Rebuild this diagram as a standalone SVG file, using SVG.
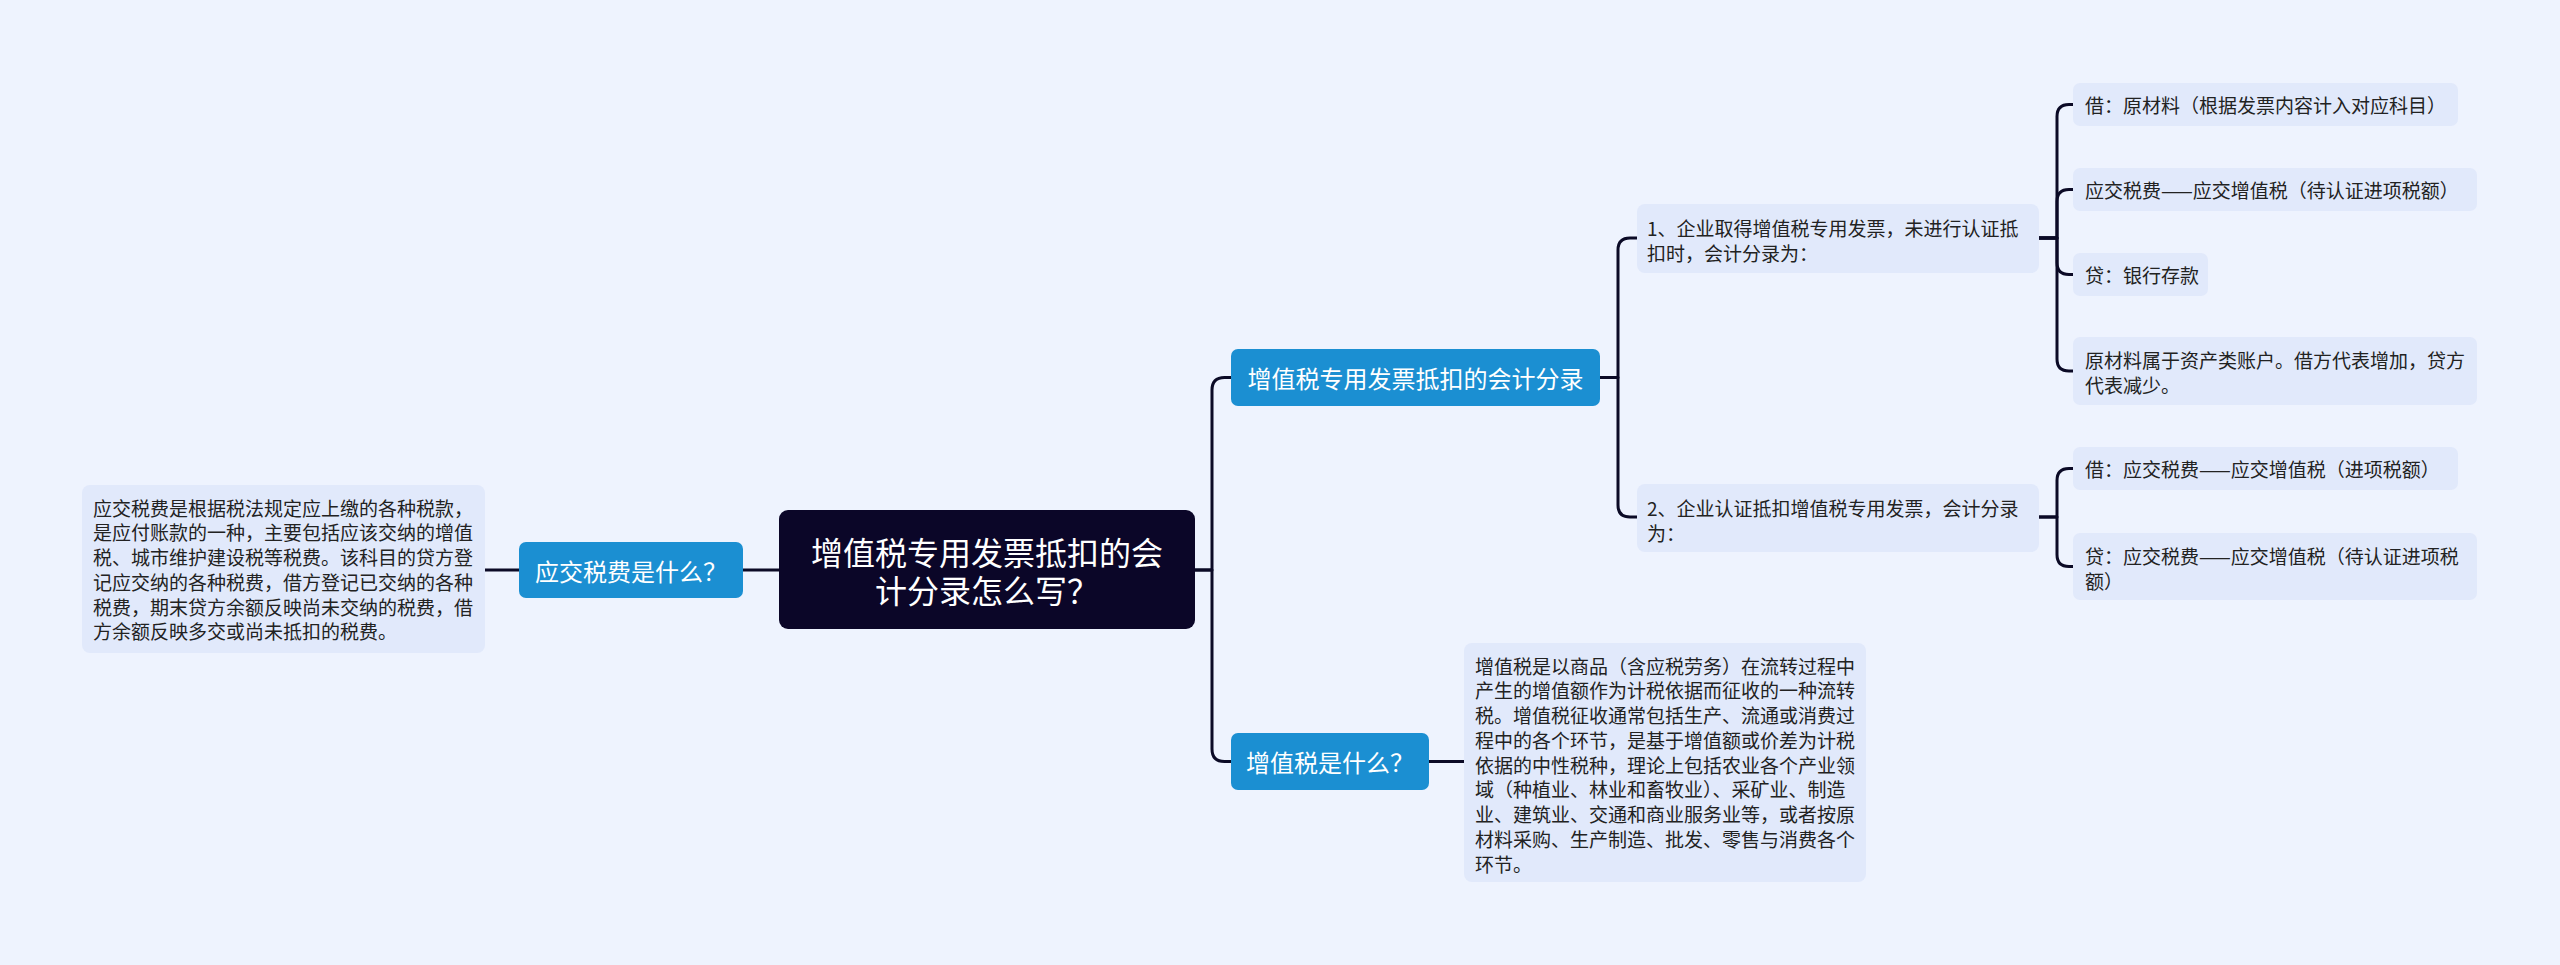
<svg xmlns="http://www.w3.org/2000/svg" width="2560" height="965" viewBox="0 0 2560 965">
<style>
text{font-family:"Noto Sans CJK SC","Noto Sans",sans-serif;dominant-baseline:central}
.root{fill:#0b0628}
.blue{fill:#1b8fd2}
.box{fill:#e1e9fb}
.tw{fill:#ffffff}
.tc{fill:#222222;font-size:19px}
.t24{font-size:24px;text-anchor:middle}
.t32{font-size:32px;text-anchor:middle}
.ln{fill:none;stroke:#0b0a26;stroke-width:3;stroke-linecap:round;stroke-linejoin:round}
</style>
<rect x="0" y="0" width="2560" height="965" fill="#eef3fe"/>
<g id="connectors" class="ln">
<path d="M779 570 H743"/>
<path d="M519 570 H485"/>
<path d="M1195 570 H1212 V390 Q1212 377.5 1224.5 377.5 H1231"/>
<path d="M1195 570 H1212 V749 Q1212 761.5 1224.5 761.5 H1231"/>
<path d="M1429 761.5 H1464"/>
<path d="M1600 377.5 H1618 V250 Q1618 238 1630 238 H1637"/>
<path d="M1600 377.5 H1618 V505 Q1618 517 1630 517 H1637"/>
<path d="M2039 238 H2057 V116.5 Q2057 104.5 2069 104.5 H2073"/>
<path d="M2039 238 H2057 V201.5 Q2057 189.5 2069 189.5 H2073"/>
<path d="M2039 238 H2057 V262.5 Q2057 274.5 2069 274.5 H2073"/>
<path d="M2039 238 H2057 V359 Q2057 371 2069 371 H2073"/>
<path d="M2039 517 H2057 V480.5 Q2057 468.5 2069 468.5 H2073"/>
<path d="M2039 517 H2057 V554.5 Q2057 566.5 2069 566.5 H2073"/>
</g>
<g id="root">
<rect class="root" x="779" y="510" width="416" height="119" rx="9"/>
<text class="tw t32" x="987" y="550.5"><tspan x="987" y="550.5">增值税专用发票抵扣的会</tspan><tspan x="987" y="588.5">计分录怎么写？</tspan></text>
</g>
<g id="node-yjsf">
<rect class="blue" x="519" y="542" width="224" height="56" rx="7"/>
<text class="tw t24" x="631" y="570">应交税费是什么？</text>
</g>
<g id="node-yjsf-desc">
<rect class="box" x="82" y="485" width="403" height="168" rx="8"/>
<text class="tc" x="93" y="507">应交税费是根据税法规定应上缴的各种税款，</text>
<text class="tc" x="93" y="531.75">是应付账款的一种，主要包括应该交纳的增值</text>
<text class="tc" x="93" y="556.5">税、城市维护建设税等税费。该科目的贷方登</text>
<text class="tc" x="93" y="581.25">记应交纳的各种税费，借方登记已交纳的各种</text>
<text class="tc" x="93" y="606">税费，期末贷方余额反映尚未交纳的税费，借</text>
<text class="tc" x="93" y="630.75">方余额反映多交或尚未抵扣的税费。</text>
</g>
<g id="node-branch1">
<rect class="blue" x="1231" y="349" width="369" height="57" rx="7"/>
<text class="tw t24" x="1415.5" y="377.5">增值税专用发票抵扣的会计分录</text>
</g>
<g id="node-branch2">
<rect class="blue" x="1231" y="733" width="198" height="57" rx="7"/>
<text class="tw t24" x="1330" y="761.5">增值税是什么？</text>
</g>
<g id="node-vat-desc">
<rect class="box" x="1464" y="643" width="402" height="239" rx="8"/>
<text class="tc" x="1475" y="665">增值税是以商品（含应税劳务）在流转过程中</text>
<text class="tc" x="1475" y="689.75">产生的增值额作为计税依据而征收的一种流转</text>
<text class="tc" x="1475" y="714.5">税。增值税征收通常包括生产、流通或消费过</text>
<text class="tc" x="1475" y="739.25">程中的各个环节，是基于增值额或价差为计税</text>
<text class="tc" x="1475" y="764">依据的中性税种，理论上包括农业各个产业领</text>
<text class="tc" x="1475" y="788.75">域（种植业、林业和畜牧业）、采矿业、制造</text>
<text class="tc" x="1475" y="813.5">业、建筑业、交通和商业服务业等，或者按原</text>
<text class="tc" x="1475" y="838.25">材料采购、生产制造、批发、零售与消费各个</text>
<text class="tc" x="1475" y="863">环节。</text>
</g>
<g id="node-sub1">
<rect class="box" x="1637" y="204" width="402" height="69" rx="8"/>
<text class="tc" x="1647" y="227">1、企业取得增值税专用发票，未进行认证抵</text>
<text class="tc" x="1647" y="252">扣时，会计分录为：</text>
</g>
<g id="node-sub2">
<rect class="box" x="1637" y="484" width="402" height="68" rx="8"/>
<text class="tc" x="1647" y="507.5">2、企业认证抵扣增值税专用发票，会计分录</text>
<text class="tc" x="1647" y="532">为：</text>
</g>
<g id="node-leaf1">
<rect class="box" x="2073" y="83" width="385" height="43" rx="7"/>
<text class="tc" x="2085" y="104.5">借：原材料（根据发票内容计入对应科目）</text>
</g>
<g id="node-leaf2">
<rect class="box" x="2073" y="168" width="404" height="43" rx="7"/>
<text class="tc" x="2085" y="189.5">应交税费——应交增值税（待认证进项税额）</text>
</g>
<g id="node-leaf3">
<rect class="box" x="2073" y="253" width="135" height="43" rx="7"/>
<text class="tc" x="2085" y="274.5">贷：银行存款</text>
</g>
<g id="node-leaf4">
<rect class="box" x="2073" y="337" width="404" height="68" rx="7"/>
<text class="tc" x="2085" y="359">原材料属于资产类账户。借方代表增加，贷方</text>
<text class="tc" x="2085" y="384">代表减少。</text>
</g>
<g id="node-leaf5">
<rect class="box" x="2073" y="447" width="385" height="43" rx="7"/>
<text class="tc" x="2085" y="468.5">借：应交税费——应交增值税（进项税额）</text>
</g>
<g id="node-leaf6">
<rect class="box" x="2073" y="533" width="404" height="67" rx="7"/>
<text class="tc" x="2085" y="555">贷：应交税费——应交增值税（待认证进项税</text>
<text class="tc" x="2085" y="580">额）</text>
</g>
</svg>
